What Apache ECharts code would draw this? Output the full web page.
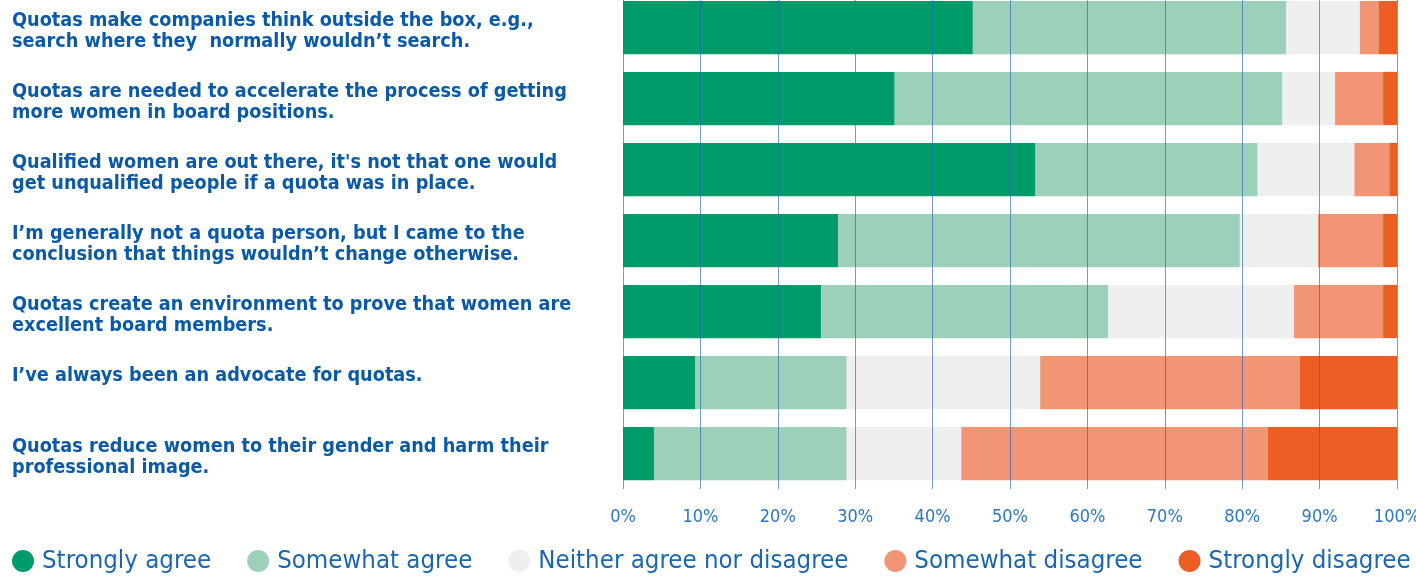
<!DOCTYPE html>
<html>
<head>
<meta charset="utf-8">
<script src="https://cdn.jsdelivr.net/npm/echarts@6/dist/echarts.min.js"></script>
<style>
html,body{margin:0;padding:0;background:#fff;overflow:hidden;}
#wrap{position:relative;width:1416px;height:576px;overflow:hidden;}
#chart{position:absolute;left:0;top:-8px;width:1416px;height:584px;}
</style>
</head>
<body>
<div id="wrap"><div id="chart"></div></div>
<script>
const categories = [
  "Quotas make companies think outside the box, e.g.,\nsearch where they  normally wouldn’t search.",
  "Quotas are needed to accelerate the process of getting\nmore women in board positions.",
  "Qualified women are out there, it's not that one would\nget unqualified people if a quota was in place.",
  "I’m generally not a quota person, but I came to the\nconclusion that things wouldn’t change otherwise.",
  "Quotas create an environment to prove that women are\nexcellent board members.",
  "I’ve always been an advocate for quotas.\n ",
  "Quotas reduce women to their gender and harm their\nprofessional image."
];
const seriesNames = ["Strongly agree", "Somewhat agree", "Neither agree nor disagree", "Somewhat disagree", "Strongly disagree"];
const stronglyAgree    = [45.2, 35.1, 53.3, 27.8, 25.6,  9.3,  4.0];
const somewhatAgree    = [40.5, 50.1, 28.7, 51.9, 37.1, 19.6, 24.9];
const neither          = [ 9.5,  6.8, 12.5, 10.1, 24.0, 25.0, 14.8];
const somewhatDisagree = [ 2.4,  6.2,  4.5,  8.4, 11.5, 33.5, 39.6];
const stronglyDisagree = [ 2.4,  1.8,  1.0,  1.8,  1.8, 12.6, 16.7];
const colors = ["#009b6b", "#9dd0b8", "#efefef", "#f29574", "#eb5e24"];
const xTicks = [0, 10, 20, 30, 40, 50, 60, 70, 80, 90, 100];

const values = [stronglyAgree, somewhatAgree, neither, somewhatDisagree, stronglyDisagree];
const chart = echarts.init(document.getElementById('chart'), null, {renderer: 'canvas'});
const condensed = '"Liberation Sans Narrow", "DejaVu Sans Condensed", "Roboto", sans-serif';
chart.setOption({
  animation: false,
  backgroundColor: '#ffffff',
  color: colors,
  grid: {left: 623, right: 19, top: 0, bottom: 87, containLabel: false, outerBoundsMode: 'none'},
  legend: {
    data: seriesNames,
    left: 12,
    bottom: 2,
    width: 1404,
    padding: 0,
    icon: 'circle',
    itemWidth: 22,
    itemHeight: 22,
    itemGap: 36,
    textStyle: {fontSize: 25.6, color: '#1a67b0', fontFamily: condensed, padding: [0, 0, 0, 3]}
  },
  xAxis: {
    type: 'value',
    min: 0, max: 100, interval: 10,
    z: 5,
    axisLine: {show: false},
    axisTick: {show: false},
    splitLine: {show: true, lineStyle: {color: 'rgba(40,105,185,0.65)', width: 1}},
    axisLabel: {
      formatter: function (v) { return xTicks.indexOf(v) >= 0 ? v + '%' : ''; },
      margin: 19, fontSize: 18, color: '#2a78c0', fontFamily: condensed
    }
  },
  yAxis: {
    type: 'category',
    inverse: true,
    data: categories,
    axisLine: {show: false},
    axisTick: {show: false},
    axisLabel: {
      align: 'left',
      margin: 611,
      formatter: function (v) {
        return '{s| }\n' + v.split('\n').map(function (l) { return '{t|' + l + '}'; }).join('\n');
      },
      rich: {
        s: {fontSize: 1, lineHeight: 7},
        t: {fontSize: 19.7, lineHeight: 21, fontWeight: 'bold', color: '#0a5aa8', fontFamily: condensed}
      }
    }
  },
  series: seriesNames.map(function (name, i) {
    return {
      name: name,
      type: 'bar',
      stack: 'total',
      barCategoryGap: '25%',
      data: values[i],
      itemStyle: {color: colors[i]}
    };
  })
});
</script>
</body>
</html>
